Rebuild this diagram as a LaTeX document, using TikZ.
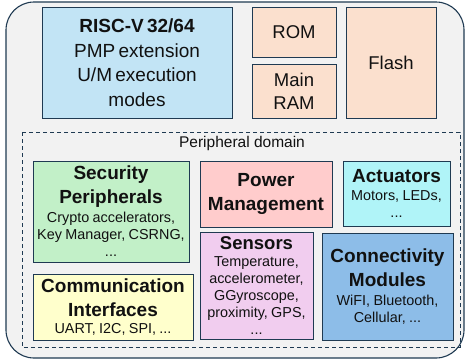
\documentclass[tikz,border=0pt]{standalone}
\usepackage{fontspec}
\setmainfont{Liberation Sans}
\definecolor{edge}{HTML}{1F3A52}
\definecolor{bg}{HTML}{F2F2F2}
\definecolor{cpu}{HTML}{C2E4F5}
\definecolor{mem}{HTML}{FBE0CE}
\definecolor{secc}{HTML}{C2F0C8}
\definecolor{powc}{HTML}{FFCCCC}
\definecolor{actc}{HTML}{B0F4F8}
\definecolor{sensc}{HTML}{F1CDEF}
\definecolor{connc}{HTML}{8DBDE8}
\definecolor{commc}{HTML}{FFFFCC}
\definecolor{ink}{HTML}{111111}
\newcommand{\ttl}{\fontsize{19}{24}\selectfont\bfseries}
\newcommand{\sub}{\fontsize{14.4}{17}\selectfont}
\newcommand{\mtx}{\fontsize{18.5}{23}\selectfont}
\tikzset{
  blk/.style={draw=edge, line width=0.9pt, inner sep=0pt, align=center, text=ink, rectangle},
}
\begin{document}
\begin{tikzpicture}[x=1pt,y=-1pt]
\useasboundingbox (0,0) rectangle (467,360);
\draw[draw=edge, fill=bg, line width=1.1pt, rounded corners=28pt] (6,2) rectangle (464,358);
% top row
\node[blk, fill=cpu, minimum width=190pt, minimum height=111pt, text width=180pt] (risc) at (137,62.5)
  {{\fontsize{19}{24.5}\selectfont\bfseries RISC-V 32/64\par}{\fontsize{19}{24.5}\selectfont PMP extension\\U/M execution\\modes\par}};
\node[blk, fill=mem, minimum width=84pt, minimum height=50pt, text width=80pt] (rom) at (294,32) {{\mtx ROM\par}};
\node[blk, fill=mem, minimum width=84pt, minimum height=54pt, text width=80pt] (ram) at (294,91) {{\mtx Main\\RAM\par}};
\node[blk, fill=mem, minimum width=90pt, minimum height=111pt, text width=86pt] (flash) at (391,62.5) {{\mtx Flash\par}};
% peripheral domain
\coordinate (pdA) at (22,132);
\coordinate (pdB) at (460,347);
\draw[draw=edge, line width=0.8pt, dash pattern=on 4pt off 3pt] (pdA) rectangle (pdB);
\node[text=ink, font=\fontsize{15.5}{18}\selectfont, inner sep=0pt] (pdlabel) at (242,143) {Peripheral domain};
\node[blk, fill=secc, minimum width=156pt, minimum height=101pt, text width=152pt] (sec) at (111,211.5)
  {{\ttl Security\\Peripherals\par}\vspace{2pt}{\sub Crypto accelerators,\\Key Manager, CSRNG,\\...\par}};
\node[blk, fill=powc, minimum width=132pt, minimum height=66pt, text width=128pt] (pow) at (266,194)
  {{\ttl Power\\Management\par}};
\node[blk, fill=actc, minimum width=107pt, minimum height=65pt, text width=103pt] (act) at (396.5,193.5)
  {{\ttl Actuators\par}\vspace{1pt}{\sub Motors, LEDs,\\...\par}};
\node[blk, fill=sensc, minimum width=113pt, minimum height=107pt, text width=111pt] (sens) at (256.5,285.5)
  {{\fontsize{18.5}{23}\selectfont\bfseries Sensors\par}\vspace{0pt}{\sub Temperature,\\accelerometer,\\GGyroscope,\\proximity, GPS,\\...\par}};
\node[blk, fill=connc, minimum width=131pt, minimum height=107pt, text width=127pt] (conn) at (387.5,286.5)
  {{\ttl Connectivity\\Modules\par}\vspace{2pt}{\sub WiFI, Bluetooth,\\Cellular, ...\par}};
\node[blk, fill=commc, minimum width=160pt, minimum height=66pt, text width=156pt] (comm) at (113,307)
  {{\ttl Communication\\Interfaces\par}{\sub UART, I2C, SPI, ...\par}};
\end{tikzpicture}
\end{document}
